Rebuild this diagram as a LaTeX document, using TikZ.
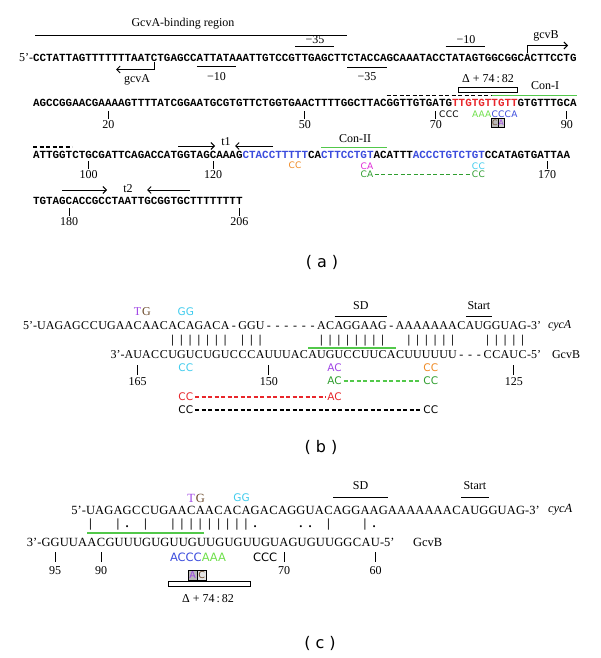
\documentclass[tikz,border=0pt]{standalone}
\usepackage{fontspec}
\setmainfont{Liberation Serif}
\newfontfamily\monof{Liberation Mono}
\newfontfamily\sansf{DejaVu Sans}
\usetikzlibrary{arrows.meta}
\definecolor{cred}{HTML}{E8262B}
\definecolor{cblue}{HTML}{3B4CDD}
\definecolor{cgreenL}{HTML}{6EE04A}
\definecolor{cgreen}{HTML}{2F9E2F}
\definecolor{cline}{HTML}{52C84A}
\definecolor{corange}{HTML}{F08A24}
\definecolor{cmag}{HTML}{E02BD8}
\definecolor{cpurp}{HTML}{A046E6}
\definecolor{ccyan}{HTML}{40CCEE}
\definecolor{cbrown}{HTML}{6B4A2B}
\ExplSyntaxOn
\NewDocumentCommand\mseq{mm}{\str_map_inline:nn{#2}{\makebox[#1][c]{\str_if_eq:nnTF{##1}{_}{}{##1}}}}
\ExplSyntaxOff
\newcommand\pitchA{6.55pt}
\newcommand\pitchB{8.75pt}
\newcommand\pitchC{9.15pt}
\newcommand\fseqA{\monof\bfseries\fontsize{10.9}{12}\selectfont}
\newcommand\fannA{\sansf\fontsize{9}{10}\selectfont}
\newcommand\flab{\fontsize{12}{14}\selectfont}
\newcommand\fseqB{\fontsize{12}{14}\selectfont}
\newcommand\fseqC{\fontsize{12.5}{14}\selectfont}
\newcommand\fannB{\sansf\fontsize{10.5}{12}\selectfont}
\newcommand\fannC{\sansf\fontsize{11.5}{12}\selectfont}
\newcommand\fpan{\sansf\fontsize{16}{18}\selectfont}
\newcommand\numtk[6]{\node[lab] (#1) at (#2,#3) {#4}; \draw[tickl] (#1.north) ++(0,-#5) -- ++(0,-#6);}
\tikzset{
  sq/.style={inner sep=0pt, outer sep=0pt, anchor=west},
  annb/.style={inner sep=0pt, outer sep=0pt, font=\fannB},
  lab/.style={inner sep=0pt, font=\flab},
  tickl/.style={line width=0.9pt},
  ovl/.style={line width=1pt},
  arr/.style={line width=0.9pt, -{Straight Barb[length=3.5pt,width=7pt]}},
  dsh/.style={line width=1.2pt, dash pattern=on 4pt off 2.5pt},
  gln/.style={line width=1.3pt, cline},
  bx/.style={draw=black, line width=0.5pt, inner sep=0pt},
  pan/.style={inner sep=0pt, font=\fpan},
}
\begin{document}
\begin{tikzpicture}[x=1pt,y=-1pt]
\useasboundingbox (0,0) rectangle (600,658);
\fill[white] (0,0) rectangle (600,658);
% ================= (a) =================
\node[lab] (gcvareg) at (183,24) {GcvA-binding region};
\draw[ovl] (35,35.5) -- (347,35.5);
\node[lab] (m35u) at (315,40) {−35};
\draw[ovl] (295,47) -- (334.3,47);
\node[lab] (m10u) at (466,40) {−10};
\draw[ovl] (445.65,47) -- (484.95,47);
\node[lab] (gcvb) at (546,36) {gcvB};
\coordinate (gB1) at (527.5,53.5); \coordinate (gB2) at (568,45.5);
\draw[arr] (gB1) |- (gB2);
% row 1
\node[sq, font=\flab, anchor=east] (r1p) at (33,58) {5’-};
\node[sq, font=\fseqA] (r1) at (33,58) {\mseq{\pitchA}{CCTATTAGTTTTTTTAATCTGAGCCATTATAAATTGTCCGTTGAGCTTCTACCAGCAAATACCTATAGTGGCGGCACTTCCTG}};
\draw[ovl] (196.75,67) -- (236.05,67);
\node[lab] (m10l) at (216.4,77) {−10};
\draw[ovl] (347.4,68) -- (386.7,68);
\node[lab] (m35l) at (367,77) {−35};
\coordinate (gA1) at (154.2,62.5); \coordinate (gA2) at (116,69.5);
\draw[arr] (gA1) |- (gA2);
\node[lab] (gcva) at (137,80) {gcvA};
% row 2 decorations
\node[lab] (dlt1) at (488,79) {Δ + 74\,:\,82};
\draw[line width=0.9pt] (458.75,87.5) rectangle (517.7,92);
\node[lab] (con1) at (545,86) {Con-I};
\draw[dsh] (386.7,95.5) -- (491.5,95.5);
\draw[gln] (491.5,95.5) -- (576.65,95.5);
% row 2
\node[sq, font=\fseqA] (r2) at (33,103) {\mseq{\pitchA}{AGCCGGAACGAAAAGTTTTATCGGAATGCGTGTTCTGGTGAACTTTTGGCTTACGGTTGTGATG}\textcolor{cred}{\mseq{\pitchA}{TTGTGTTGTT}}\mseq{\pitchA}{GTGTTTGCA}};
\numtk{n20}{108.3}{125}{20}{2}{8}
\numtk{n50}{304.8}{125}{50}{2}{8}
\numtk{n70}{435.8}{125}{70}{2}{8}
\numtk{n90}{566.8}{125}{90}{2}{8}
\node[sq, font=\fannA] (ccc2) at (439.1,114) {\mseq{\pitchA}{CCC}};
\node[sq, font=\fannA] (aaa2) at (471.85,114) {\textcolor{cgreenL}{\mseq{\pitchA}{AAA}}\textcolor{cblue}{\mseq{\pitchA}{CCCA}}};
\node[bx, fill=gray!55, text=cbrown, minimum width=6.55pt, minimum height=8.5pt, font=\sansf\fontsize{7.5}{8}\selectfont] (bxc) at (494.8,123) {C};
\node[bx, fill=gray!40, text=cpurp, minimum width=6.55pt, minimum height=8.5pt, font=\sansf\fontsize{7.5}{8}\selectfont] (bxa) at (501.3,123) {A};
% row 3 decorations
\draw[dsh] (33,147) -- (72,147);
\coordinate (t1a) at (178,146); \coordinate (t1b) at (215,146);
\draw[arr] (t1a) -- (t1b);
\node[lab] (t1) at (226,142) {t1};
\coordinate (t1c) at (273,146); \coordinate (t1d) at (235,146);
\draw[arr] (t1c) -- (t1d);
\node[lab] (con2) at (355,138.5) {Con-II};
\draw[gln] (321.2,147.5) -- (386.7,147.5);
% row 3
\node[sq, font=\fseqA] (r3) at (33,155) {\mseq{\pitchA}{ATTGGTCTGCGATTCAGACCATGGTAGCAAAG}\textcolor{cblue}{\mseq{\pitchA}{CTACCTTTTT}}\mseq{\pitchA}{CA}\textcolor{cblue}{\mseq{\pitchA}{CTTCCTGT}}\mseq{\pitchA}{ACATTT}\textcolor{cblue}{\mseq{\pitchA}{ACCCTGTCTGT}}\mseq{\pitchA}{CCATAGTGATTAA}};
\numtk{n100}{88.7}{175}{100}{2}{8}
\numtk{n120}{213.1}{175}{120}{2}{8}
\numtk{n170}{547.2}{175}{170}{2}{8}
\node[sq, font=\fannA, text=corange] (occ3) at (288.45,165) {\mseq{\pitchA}{CC}};
\node[sq, font=\fannA, text=cmag] (mca3) at (360.5,166) {\mseq{\pitchA}{CA}};
\node[sq, font=\fannA, text=ccyan] (ccc3) at (471.85,166) {\mseq{\pitchA}{CC}};
\node[sq, font=\fannA, text=cgreen] (gca3) at (360.5,174) {\mseq{\pitchA}{CA}};
\node[sq, font=\fannA, text=cgreen] (gcc3) at (471.85,174) {\mseq{\pitchA}{CC}};
\draw[dsh, cgreen, line width=1pt, shorten <=1pt, shorten >=1pt] (gca3.east) -- (gcc3.west);
% row 4
\coordinate (t2a) at (62,190); \coordinate (t2b) at (107,190);
\draw[arr] (t2a) -- (t2b);
\node[lab] (t2) at (128,189) {t2};
\coordinate (t2c) at (190,190); \coordinate (t2d) at (147,190);
\draw[arr] (t2c) -- (t2d);
\node[sq, font=\fseqA] (r4) at (33,201) {\mseq{\pitchA}{TGTAGCACCGCCTAATTGCGGTGCTTTTTTTT}};
\numtk{n180}{69}{222}{180}{2}{8}
\numtk{n206}{239.3}{222}{206}{2}{8}
\node[pan] (pa) at (322,262) {( a )};
% ================= (b) =================
\node[sq, font=\fseqB] (tgb) at (133.25,312) {\makebox[\pitchB]{\textcolor{cpurp}{T}}\makebox[\pitchB]{\textcolor{cbrown}{G}}};
\node[annb, text=ccyan] (ggb) at (185.75,312) {GG};
\node[lab] (sdb) at (360.75,306) {SD};
\draw[ovl] (334.5,316) -- (387,316);
\node[lab] (stb) at (478.9,306) {Start};
\draw[ovl] (465.75,316) -- (492,316);
\node[sq, font=\fseqB, anchor=east] (b5p) at (37,326) {5’-};
\node[sq, font=\fseqB] (btop) at (37,326) {\mseq{\pitchB}{UAGAGCCUGAACAACACAGACA-GGU------ACAGGAAG-AAAAAAACAUGGUAG}};
\node[sq, font=\fseqB] (b3p) at (527,326) {-3’};
\node[sq, font=\fseqB] (bcyca) at (548,326) {\textit{cycA}};
\node[sq, font=\fseqB\bfseries] (bbars) at (37,341) {\mseq{\pitchB}{_______________|||||||_|||______||||||||__||||||___|||||}};
\draw[gln] (308.25,348) -- (395.75,348);
\node[sq, font=\fseqB, anchor=east] (b3q) at (124.5,355) {3’-};
\node[sq, font=\fseqB] (bbot) at (124.5,355) {\mseq{\pitchB}{AUACCUGUCUGUCCCAUUUACAUGUCCUUCACUUUUUU---CCAUC}};
\node[sq, font=\fseqB] (b5q) at (527,355) {-5’};
\node[sq, font=\fseqB] (bgcvb) at (552,355) {GcvB};
\node[annb, text=ccyan] (bcc1) at (185.75,368) {CC};
\node[annb, text=cpurp] (bac1) at (334.5,368) {AC};
\node[annb, text=corange] (bcc2) at (430.75,368) {CC};
\numtk{n165}{137.6}{382}{165}{3}{10}
\numtk{n150}{268.9}{382}{150}{3}{10}
\numtk{n125}{513.9}{382}{125}{3}{10}
\node[annb, text=cgreen] (bac2) at (334.5,381) {AC};
\node[annb, text=cgreen] (bcc3) at (430.75,381) {CC};
\draw[dsh, cline, shorten <=2pt, shorten >=2pt] (bac2.east) -- (bcc3.west);
\node[annb, text=cred] (bcc4) at (185.75,397) {CC};
\node[annb, text=cred] (bac3) at (334.5,397) {AC};
\draw[dsh, cred, shorten <=2pt, shorten >=2pt] (bcc4.east) -- (bac3.west);
\node[annb] (bcc5) at (185.75,410) {CC};
\node[annb] (bcc6) at (430.75,410) {CC};
\draw[dsh, shorten <=2pt, shorten >=2pt] (bcc5.east) -- (bcc6.west);
\node[pan] (pb) at (321,447) {( b )};
% ================= (c) =================
\node[lab] (sdc) at (360.5,486) {SD};
\draw[ovl] (333.05,497) -- (387.95,497);
\node[lab] (stc) at (474.9,486) {Start};
\draw[ovl] (461.15,497) -- (488.6,497);
\node[sq, font=\fseqC] (tgc) at (186.65,498) {\makebox[\pitchC]{\textcolor{cpurp}{T}}\makebox[\pitchC]{\textcolor{cbrown}{G}}};
\node[annb, text=ccyan] (ggc) at (241.55,498) {GG};
\node[sq, font=\fseqC, anchor=east] (c5p) at (86,510) {5’-};
\node[sq, font=\fseqC] (ctop) at (86,510) {\mseq{\pitchC}{UAGAGCCUGAACAACACAGACAGGUACAGGAAGAAAAAAACAUGGUAG}};
\node[sq, font=\fseqC] (c3p) at (525.2,510) {-3’};
\node[sq, font=\fseqC] (ccyca) at (548,510) {\textit{cycA}};
\node[sq, font=\fseqC\bfseries] (cbars) at (86,525) {\mseq{\pitchC}{|__|._|__|||||||||.____.._|___|.}};
\draw[gln] (87.25,533) -- (204,533);
\node[sq, font=\fseqC, anchor=east] (c3q) at (41.5,542) {3’-};
\node[sq, font=\fseqC] (cbot) at (41.5,542) {\mseq{\pitchC}{GGUUAACGUUUGUGUUGUUGUGUUGUAGUGUUGGCAU}};
\node[sq, font=\fseqC] (c5q) at (380.05,542) {-5’};
\node[sq, font=\fseqC] (cgcvb) at (413,542) {GcvB};
\numtk{n95}{55.2}{571}{95}{5}{10}
\numtk{n90c}{101}{571}{90}{5}{10}
\numtk{n70c}{284}{571}{70}{5}{10}
\numtk{n60}{375.5}{571}{60}{5}{10}
\node[sq, font=\fannC] (cacc) at (170,557) {\textcolor{cblue}{ACCC}\textcolor{cgreenL}{AAA}};
\node[sq, font=\fannC] (cccc) at (253,557) {CCC};
\node[bx, fill=gray!55, text=cpurp, minimum width=9.15pt, minimum height=10.5pt, font=\sansf\fontsize{9.5}{10}\selectfont] (cbxa) at (192.5,575) {A};
\node[bx, fill=gray!20, text=cbrown, minimum width=9.15pt, minimum height=10.5pt, font=\sansf\fontsize{9.5}{10}\selectfont] (cbxc) at (201.65,575) {C};
\draw[line width=0.9pt] (168,581) rectangle (250,586.5);
\node[lab] (dltc) at (208,599) {Δ + 74\,:\,82};
\node[pan] (pc) at (320,643) {( c )};
\end{tikzpicture}
\end{document}
